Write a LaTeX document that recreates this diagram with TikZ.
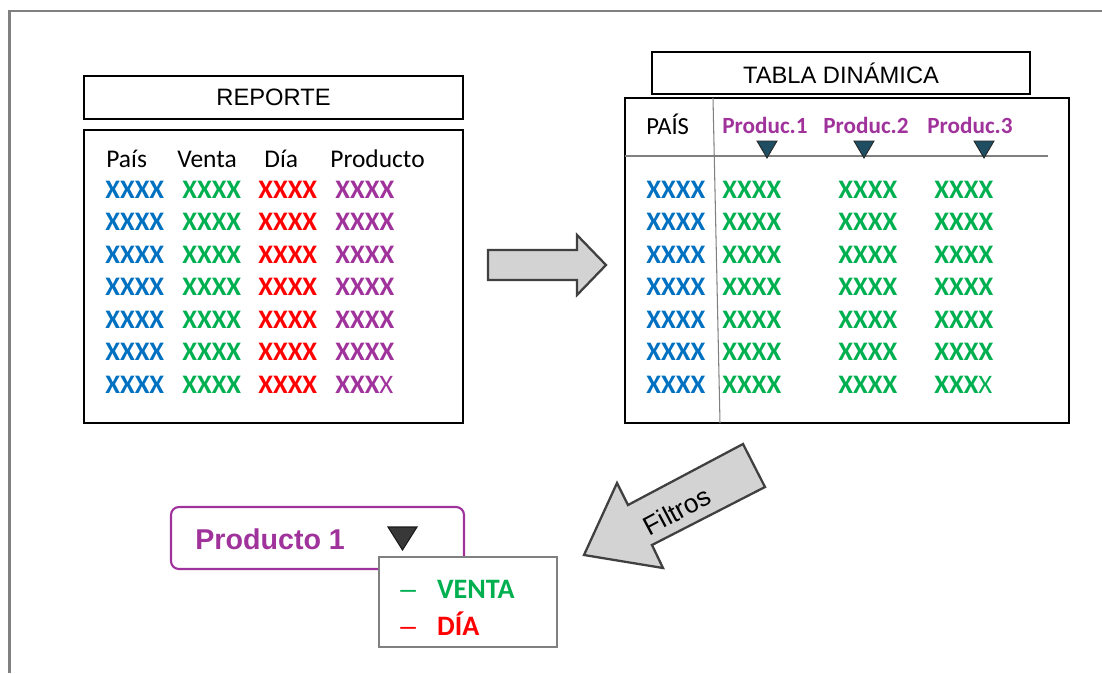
\documentclass[tikz,border=0pt]{standalone}
\usepackage{fontspec}
\setmainfont{Carlito}
\newfontfamily\arialfont{Liberation Sans}
\usepackage{xcolor}
\usepackage{tikz}

\definecolor{xblue}{RGB}{0,112,192}
\definecolor{xgreen}{RGB}{0,176,80}
\definecolor{xred}{RGB}{255,0,0}
\definecolor{xpurple}{RGB}{160,50,155}
\definecolor{xteal}{RGB}{31,78,99}
\definecolor{framegray}{RGB}{128,128,128}
\definecolor{arrowfill}{RGB}{211,211,211}
\definecolor{arrowline}{RGB}{64,64,64}

\begin{document}
\begin{tikzpicture}[x=0.02cm, y=-0.02cm,
  titlebox/.style={draw, line width=0.8pt, inner sep=0pt,
                   font=\arialfont\fontsize{13.5}{16}\selectfont},
  panel/.style={draw, line width=0.8pt},
  head/.style={anchor=base west, inner sep=0pt, font=\fontsize{14.5}{17}\selectfont},
  xx/.style={anchor=base west, inner sep=0pt, font=\bfseries\fontsize{15.2}{18}\selectfont},
  prod/.style={anchor=base, inner sep=0pt, text=xpurple,
               font=\bfseries\fontsize{13.2}{16}\selectfont},
  gridline/.style={draw=framegray, line width=0.6pt},
  tri/.style={fill=xteal, draw=black!85, line width=0.5pt},
  blockarrow/.style={fill=arrowfill, draw=arrowline, line width=1.3pt, line join=miter},
  item/.style={anchor=base west, inner sep=0pt, font=\bfseries\fontsize{16}{19}\selectfont}]
  \useasboundingbox (0,0) rectangle (1102,673);
  \draw[framegray, line width=1.3pt] (1102,11) -- (9.5,11) -- (9.5,673);

  % reporte
  \node[titlebox, minimum width=7.58cm, minimum height=0.86cm] (reporte) at (273.5,97.5) {REPORTE};
  \draw[panel] (84,130) rectangle (463,423);
  \node[head] (hpais) at (106,167) {País};
  \node[head] (hventa) at (177,167) {Venta};
  \node[head] (hdia) at (264,167) {Día};
  \node[head] (hprod) at (330,167) {Producto};
  \foreach \r in {0,...,6}{
    \pgfmathsetmacro\yb{198+32.5*\r}
    \node[xx, text=xblue] (rp\r) at (105,\yb) {XXXX};
    \node[xx, text=xgreen] (rv\r) at (182,\yb) {XXXX};
    \node[xx, text=xred] (rd\r) at (258,\yb) {XXXX};
    \ifnum\r=6
      \node[xx, text=xpurple] (rq\r) at (335,\yb) {XXX\textmd{X}};
    \else
      \node[xx, text=xpurple] (rq\r) at (335,\yb) {XXXX};
    \fi
  }

  % flecha a la tabla
  \draw[blockarrow] (488,250) -- (577,250) -- (577,235) -- (606,265)
    -- (577,295) -- (577,280) -- (488,280) -- cycle;

  % tabla dinamica
  \node[titlebox, minimum width=7.56cm, minimum height=0.84cm] (tabla) at (841,73) {TABLA DINÁMICA};
  \draw[panel] (625,98) rectangle (1069,423);
  \draw[gridline] (713,98) -- (720,423);
  \draw[gridline] (625,156) -- (1048,156);
  \node[head, font=\fontsize{14}{17}\selectfont] (tpais) at (646,134) {PAÍS};
  \node[prod] (p1) at (765,133) {Produc.1};
  \node[prod] (p2) at (866,133) {Produc.2};
  \node[prod] (p3) at (970,133) {Produc.3};
  \foreach \tx in {767,864,984}
    \draw[tri] (\tx-10,141) -- (\tx+10,141) -- (\tx,158) -- cycle;
  \foreach \r in {0,...,6}{
    \pgfmathsetmacro\yb{198+32.5*\r}
    \node[xx, text=xblue] (tp\r) at (646,\yb) {XXXX};
    \node[xx, text=xgreen] (ta\r) at (722,\yb) {XXXX};
    \node[xx, text=xgreen] (tb\r) at (838,\yb) {XXXX};
    \ifnum\r=6
      \node[xx, text=xgreen] (tc\r) at (934,\yb) {XXX\textmd{X}};
    \else
      \node[xx, text=xgreen] (tc\r) at (934,\yb) {XXXX};
    \fi
  }

  % flecha de filtros
  \draw[blockarrow] (743,444) -- (765,487) -- (652,545) -- (663,568)
    -- (584,555) -- (617,483) -- (628,505) -- cycle;
  \node[rotate=28, inner sep=0pt, font=\arialfont\fontsize{15}{18}\selectfont] (filtros) at (677,511) {Filtros};

  % filtro desplegable
  \draw[draw=xpurple, line width=1.2pt, rounded corners=4.5pt] (171,507) rectangle (464,569);
  \node[anchor=base west, inner sep=0pt, text=xpurple,
        font=\arialfont\bfseries\fontsize{16.3}{19}\selectfont] (prod1) at (195,549) {Producto 1};
  \draw[fill=black!78, draw=black!90, line width=0.6pt] (388,527) -- (417,527) -- (402.5,550) -- cycle;
  \draw[fill=white, draw=framegray, line width=1pt] (379,557) rectangle (557,647);
  \node[item, text=xgreen] (venta) at (400,598) {{\arialfont\mdseries –}\hspace{12pt}VENTA};
  \node[item, text=xred] (dia) at (400,635) {{\arialfont\mdseries –}\hspace{12pt}DÍA};
\end{tikzpicture}
\end{document}
